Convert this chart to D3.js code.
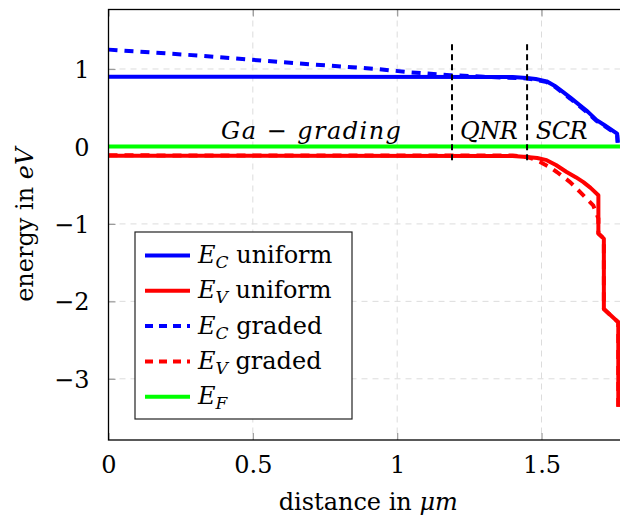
<!DOCTYPE html>
<html><head><meta charset="utf-8">
<script src="https://cdn.jsdelivr.net/npm/d3@7"></script>
<style>body{margin:0;background:#fff}svg{display:block}</style>
</head><body>
<svg id="c" width="620" height="520"></svg>
<script>
// ---- data ----
const xTicks = [0, 0.5, 1, 1.5];
const xTickLabels = ["0", "0.5", "1", "1.5"];
const yTicks = [1, 0, -1, -2, -3];
const yTickLabels = ["1", "0", "−1", "−2", "−3"];

const ecUniformX = [0, 1.40, 1.449, 1.48, 1.518, 1.545, 1.574, 1.60, 1.633, 1.66, 1.691, 1.72, 1.762, 1.764];
const ecUniformY = [0.9, 0.897, 0.885, 0.87, 0.84, 0.785, 0.705, 0.63, 0.53, 0.45, 0.34, 0.27, 0.165, 0.05];
const evUniformX = [0, 1.40, 1.449, 1.485, 1.518, 1.55, 1.587, 1.62, 1.645, 1.67, 1.697, 1.697, 1.716, 1.716, 1.766, 1.766];
const evUniformY = [-0.12, -0.122, -0.135, -0.15, -0.177, -0.24, -0.33, -0.40, -0.46, -0.535, -0.63, -1.125, -1.19, -2.1, -2.27, -3.36];
const ecGradedX = [0, 0.318, 0.652, 0.929, 1.045, 1.183, 1.30, 1.449, 1.48, 1.518, 1.545, 1.574, 1.60, 1.633, 1.66, 1.69, 1.72, 1.762, 1.764];
const ecGradedY = [1.25, 1.172, 1.074, 1.0, 0.957, 0.92, 0.9, 0.878, 0.862, 0.83, 0.775, 0.69, 0.615, 0.515, 0.435, 0.33, 0.26, 0.15, 0.05];
const evGradedX = [0, 1.40, 1.45, 1.47, 1.495, 1.525, 1.553, 1.599, 1.634, 1.679, 1.697, 1.697, 1.716, 1.716, 1.766, 1.766];
const evGradedY = [-0.115, -0.118, -0.135, -0.16, -0.2, -0.26, -0.33, -0.46, -0.59, -0.76, -0.93, -1.125, -1.19, -2.1, -2.27, -3.36];
const efX = [0, 1.775];
const efY = [0, 0];

const regionBoundsX = [1.19, 1.45];
const regionBoundsY = [1.32, -0.23];
const regionLabels = ["Ga − grading", "QNR", "SCR"];
const regionLabelX = [0.390, 1.218, 1.48];
const regionLabelX2 = [1.013, 1.418, 1.66];

const legendNames = [["E","C"," uniform"],["E","V"," uniform"],["E","C"," graded"],["E","V"," graded"],["E","F",""]];
const legendColors = ["#0000ff","#ff0000","#0000ff","#ff0000","#00ff00"];
const legendDashed = [false,false,true,true,false];

// ---- layout ----
const svg = d3.select("#c");
const L = 108.5, T = 9.5, B = 440, R = 620.9;
const x = d3.scaleLinear().domain([0, 1.775]).range([L, R]);
const y = d3.scaleLinear().domain([-3.79, 1.768]).range([B, T]);
const font = "'DejaVu Serif', serif";

svg.append("defs").append("clipPath").attr("id","clip")
  .append("rect").attr("x",L).attr("y",T).attr("width",R-L).attr("height",B-T);

// grid
const g = svg.append("g");
g.selectAll(".gx").data(xTicks.slice(1)).join("line")
  .attr("x1",d=>x(d)).attr("x2",d=>x(d)).attr("y1",T).attr("y2",B)
  .attr("stroke","#dcdcdc").attr("stroke-dasharray","6,5").attr("stroke-width",1);
g.selectAll(".gy").data(yTicks).join("line")
  .attr("y1",d=>y(d)).attr("y2",d=>y(d)).attr("x1",L).attr("x2",R)
  .attr("stroke","#dcdcdc").attr("stroke-dasharray","6,5").attr("stroke-width",1);

// axes via d3
const xAxisB = d3.axisBottom(x).tickValues(xTicks).tickFormat((d,i)=>xTickLabels[i]).tickSizeInner(-7).tickSizeOuter(0).tickPadding(16);
const xAxisT = d3.axisTop(x).tickValues(xTicks).tickFormat("").tickSizeInner(-7).tickSizeOuter(0);
const yAxisL = d3.axisLeft(y).tickValues(yTicks).tickFormat((d,i)=>yTickLabels[i]).tickSizeInner(-7).tickSizeOuter(0).tickPadding(19);

function styleAxis(sel){
  sel.select(".domain").remove();
  sel.selectAll(".tick line").attr("stroke","#9a9a9a").attr("stroke-width",1.2);
  sel.selectAll("text").attr("font-family",font).attr("font-size",24).attr("fill","#000");
}
svg.append("g").attr("transform",`translate(0,${B})`).call(xAxisB).call(styleAxis)
  .selectAll("text").attr("dy","0.71em");
svg.append("g").attr("transform",`translate(0,${T})`).call(xAxisT).call(styleAxis);
svg.append("g").attr("transform",`translate(${L},0)`).call(yAxisL).call(styleAxis)
  .selectAll("text").attr("dy","0.36em");

// curves
const line = d3.line().x(d=>x(d[0])).y(d=>y(d[1]));
const zip = (a,b)=>a.map((v,i)=>[v,b[i]]);
const plot = svg.append("g").attr("clip-path","url(#clip)");
const series = [
  {d: zip(ecUniformX, ecUniformY), c:"#0000ff", dash:null},
  {d: zip(evUniformX, evUniformY), c:"#ff0000", dash:null},
  {d: zip(ecGradedX, ecGradedY), c:"#0000ff", dash:"9,7"},
  {d: zip(evGradedX, evGradedY), c:"#ff0000", dash:"9,7"},
  {d: zip(efX, efY), c:"#00ff00", dash:null},
];
series.forEach(s=>{
  plot.append("path").attr("d",line(s.d)).attr("fill","none").attr("stroke",s.c)
    .attr("stroke-width",4).attr("stroke-linejoin","round")
    .attr("stroke-dasharray",s.dash);
});

// region boundaries
plot.selectAll(".vb").data(regionBoundsX).join("line")
  .attr("x1",d=>x(d)).attr("x2",d=>x(d)).attr("y1",y(regionBoundsY[0])).attr("y2",y(regionBoundsY[1]))
  .attr("stroke","#000").attr("stroke-width",2).attr("stroke-dasharray","6,4");

// region labels
regionLabels.forEach((t,i)=>{
  svg.append("text").attr("x",x(regionLabelX[i])).attr("y",y(0.1))
    .attr("font-family",font).attr("font-style","italic").attr("font-size",24)
    .attr("textLength",x(regionLabelX2[i])-x(regionLabelX[i])).attr("lengthAdjust","spacing")
    .text(t);
});

// frame
svg.append("rect").attr("x",L).attr("y",T).attr("width",R-L).attr("height",B-T)
  .attr("fill","none").attr("stroke","#000").attr("stroke-width",1.3);

// axis titles
const xt = svg.append("text").attr("x",(L+620)/2+4).attr("y",510).attr("text-anchor","middle")
  .attr("font-family",font).attr("font-size",24);
xt.append("tspan").text("distance in ");
xt.append("tspan").attr("font-style","italic").text("μm");
const yt = svg.append("text").attr("transform",`translate(33,${(T+B)/2}) rotate(-90)`).attr("text-anchor","middle")
  .attr("font-family",font).attr("font-size",24);
yt.append("tspan").text("energy in ");
yt.append("tspan").attr("font-style","italic").text("eV");

// legend
const lg = svg.append("g");
lg.append("rect").attr("x",135).attr("y",232).attr("width",217).attr("height",187)
  .attr("fill","#fff").attr("stroke","#222").attr("stroke-width",1.2);
legendNames.forEach((n,i)=>{
  const ly = 255.5 + i*35.3;
  lg.append("line").attr("x1",145).attr("x2",190).attr("y1",ly).attr("y2",ly)
    .attr("stroke",legendColors[i]).attr("stroke-width",4)
    .attr("stroke-dasharray",legendDashed[i]?"8,6":null);
  const t = lg.append("text").attr("x",198).attr("y",ly+7.5).attr("font-family",font).attr("font-size",24);
  t.append("tspan").attr("font-style","italic").text(n[0]);
  t.append("tspan").attr("font-style","italic").attr("font-size",17).attr("dy",5).text(n[1]);
  t.append("tspan").attr("dy",-5).text(n[2]);
});
</script>
</body></html>
